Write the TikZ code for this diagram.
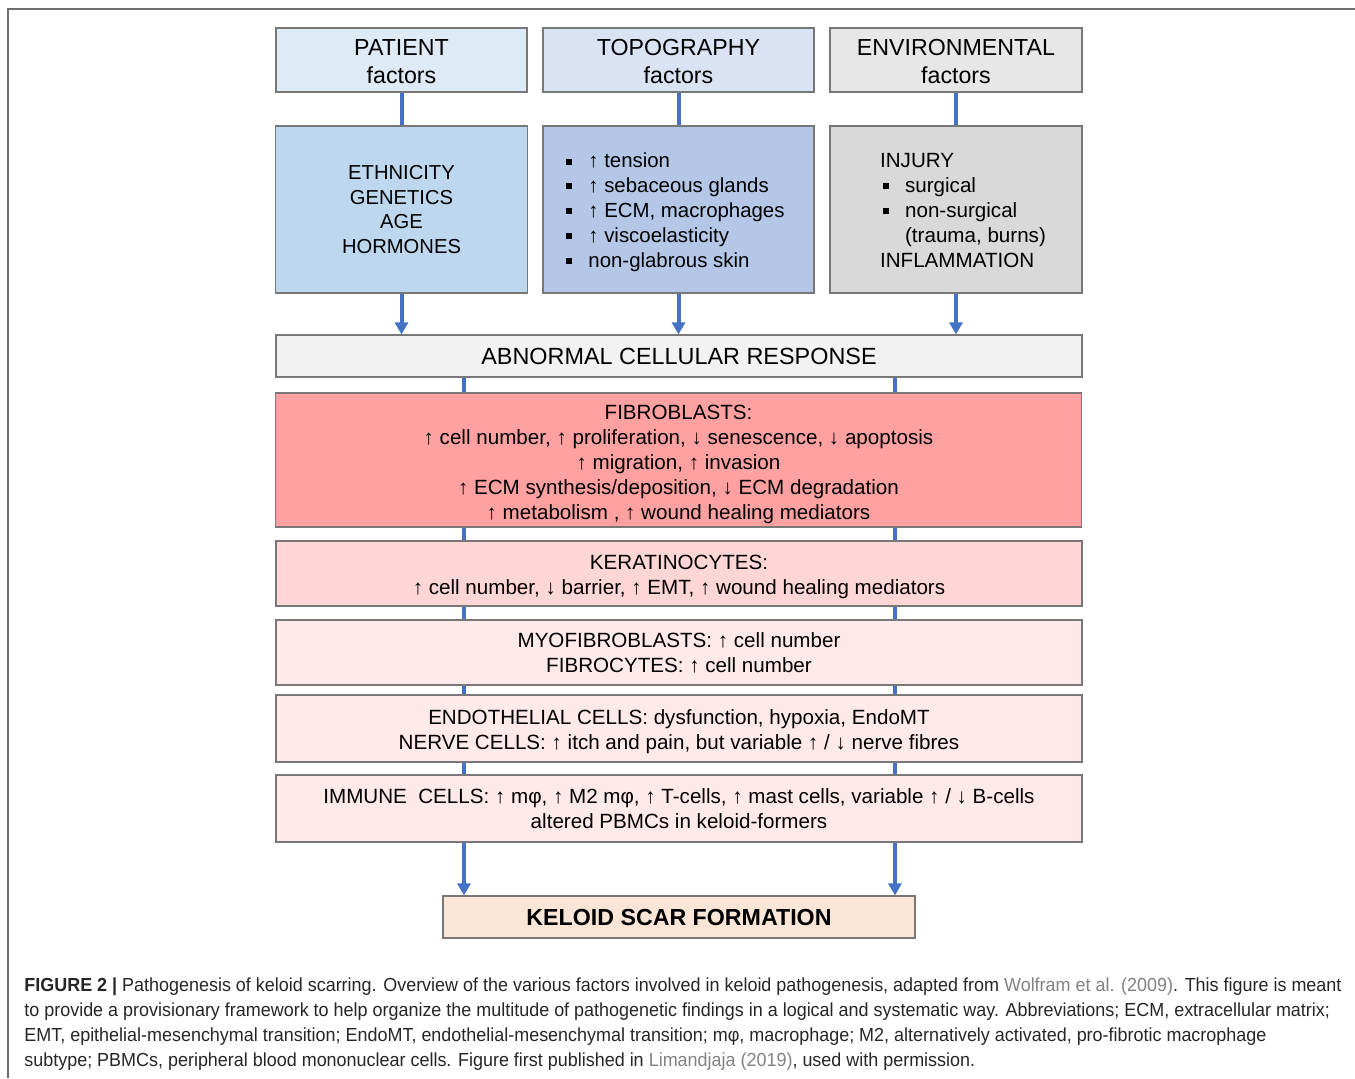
\documentclass[tikz,border=0pt]{standalone}
\usepackage{fontspec}
\setmainfont{Liberation Sans}
\newfontfamily\capfont[FakeStretch=0.95]{Liberation Sans}
\usepackage{xcolor}
\usepackage{tikz}
\usetikzlibrary{arrows.meta, positioning}
\definecolor{kelblue}{RGB}{68,114,196}
\definecolor{kelframe}{RGB}{110,110,110}
\definecolor{kelborder}{RGB}{120,120,120}
\definecolor{pathead}{RGB}{222,234,246}
\definecolor{topohead}{RGB}{218,227,243}
\definecolor{envhead}{RGB}{231,231,231}
\definecolor{patbody}{RGB}{189,215,238}
\definecolor{topobody}{RGB}{180,199,231}
\definecolor{envbody}{RGB}{217,217,217}
\definecolor{abnfill}{RGB}{242,242,242}
\definecolor{fibfill}{RGB}{255,161,161}
\definecolor{kerfill}{RGB}{255,214,214}
\definecolor{cellfill}{RGB}{255,233,233}
\definecolor{kelfill}{RGB}{251,229,214}
\definecolor{capgray}{RGB}{130,130,130}
\newcommand{\bul}{\makebox[11pt][l]{\raisebox{1.6pt}{\rule{3pt}{3pt}}}}

\begin{document}
\begin{tikzpicture}[x=0.5pt, y=-0.5pt,
    box/.style={draw=kelborder, line width=0.6pt, align=center, inner sep=0pt,
      font=\fontsize{10.1}{12.4}\selectfont},
    head/.style={box, minimum height=32pt, font=\fontsize{11.6}{14}\selectfont},
    body/.style={box, minimum height=83.5pt},
    cellbox/.style={box, minimum width=403pt, font=\fontsize{10.3}{12.5}\selectfont},
    link/.style={draw=kelblue, line width=2pt},
    flow/.style={link, -{Triangle[width=6.5pt,length=6pt]}}]
  \useasboundingbox (0,0) rectangle (1355,1078);
  \draw[kelframe, line width=1pt] (8,1078) -- (8,9) -- (1355,9);

  % factor headers
  \node[head, fill=pathead, minimum width=125.5pt] (pat) at (401.5,60) {\rule{0pt}{10pt}PATIENT\\factors};
  \node[head, fill=topohead, minimum width=135.5pt] (topo) at (678.5,60) {\rule{0pt}{10pt}TOPOGRAPHY\\factors};
  \node[head, fill=envhead, minimum width=126pt] (env) at (956,60) {\rule{0pt}{10pt}ENVIRONMENTAL\\factors};

  % factor details
  \node[body, fill=patbody, minimum width=126pt] (patL) at (401.5,209.5)
    {ETHNICITY\\GENETICS\\AGE\\HORMONES};
  \node[body, fill=topobody, minimum width=135.5pt, font=\fontsize{10.2}{12.4}\selectfont] (topoL) at (678.5,209.5)
    {\begin{tabular}{@{}l@{\hspace{3pt}}}
     \rule{0pt}{11.7pt}\bul↑ tension\\ \bul↑ sebaceous glands\\ \bul↑ ECM, macrophages\\
     \bul↑ viscoelasticity\\ \bul non-glabrous skin
     \end{tabular}};
  \node[body, fill=envbody, minimum width=126pt, font=\fontsize{10.3}{12.4}\selectfont] (envL) at (956,209.5)
    {\begin{tabular}{@{\hspace{7pt}}l@{}}
     \rule{0pt}{11.7pt}INJURY\\ \hspace*{1.5pt}\bul surgical\\ \hspace*{1.5pt}\bul non-surgical\\
     \hspace*{12.5pt}(trauma, burns)\\ INFLAMMATION
     \end{tabular}};

  % cellular response
  \node[cellbox, fill=abnfill, minimum height=21pt, font=\fontsize{11.7}{14}\selectfont]
    (abn) at (679,356) {ABNORMAL CELLULAR RESPONSE};
  \node[cellbox, fill=fibfill, minimum height=67pt] (fib) at (678.5,460)
    {\rule{0pt}{11.4pt}FIBROBLASTS:\\ ↑ cell number, ↑ proliferation, ↓ senescence, ↓ apoptosis\\
     ↑ migration, ↑ invasion\\ ↑ ECM synthesis/deposition, ↓ ECM degradation\\
     ↑ metabolism , ↑ wound healing mediators};
  \node[cellbox, fill=kerfill, minimum height=32.5pt] (ker) at (679,573.5)
    {\rule{0pt}{10.6pt}KERATINOCYTES:\\ ↑ cell number, ↓ barrier, ↑ EMT, ↑ wound healing mediators};
  \node[cellbox, fill=cellfill, minimum height=32.5pt] (myo) at (679,652.5)
    {MYOFIBROBLASTS: ↑ cell number\\ FIBROCYTES: ↑ cell number};
  \node[cellbox, fill=cellfill, minimum height=33.5pt] (endo) at (679,728.5)
    {\rule{0pt}{10.5pt}ENDOTHELIAL CELLS: dysfunction, hypoxia, EndoMT\\
     NERVE CELLS: ↑ itch and pain, but variable ↑ / ↓ nerve fibres};
  \node[cellbox, fill=cellfill, minimum height=33.5pt] (imm) at (679,808.5)
    {IMMUNE\ \ CELLS: ↑ mφ, ↑ M2 mφ, ↑ T-cells, ↑ mast cells, variable ↑ / ↓ B-cells\\
     altered PBMCs in keloid-formers};
  \node[box, fill=kelfill, minimum width=236pt, minimum height=21pt,
    font=\fontsize{11.6}{14}\selectfont\bfseries] (kel) at (679,917) {KELOID SCAR FORMATION};

  % connectors
  \foreach \a in {pat, topo, env} {
    \draw[link] (\a.south) -- (\a L.north -| \a.south);
    \draw[flow] (\a L.south -| \a.south) -- (abn.north -| \a.south);
  }
  \coordinate (lft) at (464,0);
  \coordinate (rgt) at (895,0);
  \foreach \a/\b in {abn/fib, fib/ker, ker/myo, myo/endo, endo/imm} {
    \draw[link] (\a.south -| lft) -- (\b.north -| lft);
    \draw[link] (\a.south -| rgt) -- (\b.north -| rgt);
  }
  \draw[flow] (imm.south -| lft) -- (kel.north -| lft);
  \draw[flow] (imm.south -| rgt) -- (kel.north -| rgt);

  % caption
  \node[anchor=north west, align=left, inner sep=0pt, text=black!85,
    font=\capfont\fontsize{9.45}{12.5}\selectfont] (cap) at (24,977)
    {\textbf{FIGURE 2 |} Pathogenesis of keloid scarring. Overview of the various factors involved in keloid pathogenesis, adapted from \textcolor{capgray}{Wolfram et al. (2009)}. This figure is meant\\
     to provide a provisionary framework to help organize the multitude of pathogenetic findings in a logical and systematic way. Abbreviations; ECM, extracellular matrix;\\
     EMT, epithelial-mesenchymal transition; EndoMT, endothelial-mesenchymal transition; mφ, macrophage; M2, alternatively activated, pro-fibrotic macrophage\\
     subtype; PBMCs, peripheral blood mononuclear cells. Figure first published in \textcolor{capgray}{Limandjaja (2019)}, used with permission.};
\end{tikzpicture}
\end{document}
